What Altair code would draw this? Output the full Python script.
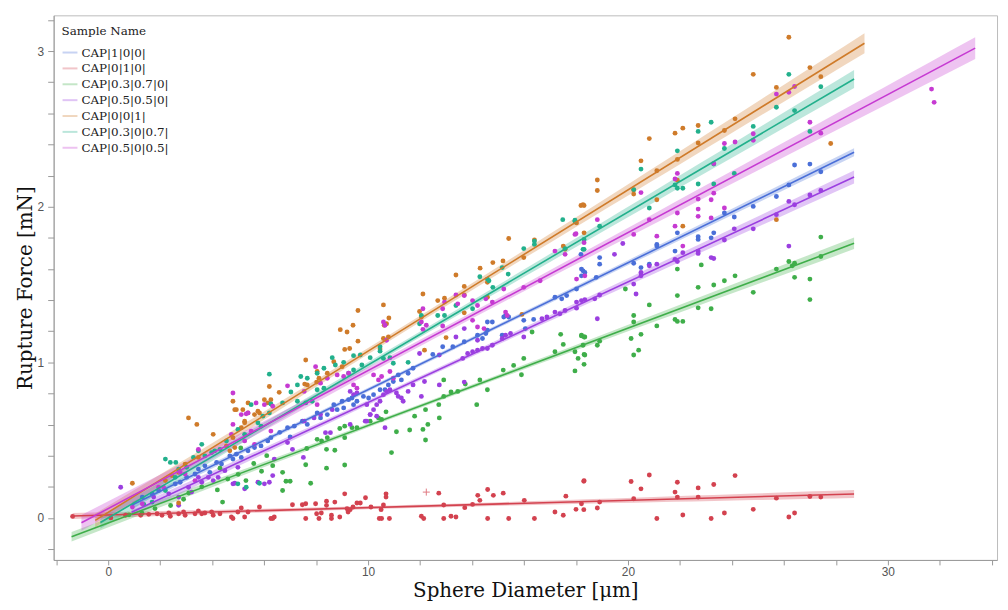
import altair as alt
import pandas as pd
import numpy as np

series_names = ["CAP|1|0|0|", "CAP|0|1|0|", "CAP|0.3|0.7|0|", "CAP|0.5|0.5|0|",
                "CAP|0|0|1|", "CAP|0.3|0|0.7|", "CAP|0.5|0|0.5|"]
series_colors = ["#4a6fd8", "#d3424f", "#3fae4a", "#9b3fe0", "#cf7b2a", "#22b08c", "#c63ad2"]

# ---- scatter points ----
blue_x = [1.31, 1.69, 1.94, 2.58, 2.77, 3.02, 3.34, 3.47, 3.72, 3.91, 4.17, 4.36, 4.68, 4.8, 4.93, 5.12, 5.38, 5.63,
          5.88, 6.14, 6.26, 6.6, 6.9, 7.0, 7.16, 7.47, 7.66, 8.04, 8.17, 8.43, 8.68, 8.81, 9.0, 9.06, 9.25, 9.38, 9.44,
          9.57, 9.82, 10.02, 10.21, 10.46, 10.65, 10.78, 10.97, 11.16, 11.28, 11.54, 11.73, 12.49, 12.87, 13.26, 13.7,
          14.21, 14.4, 14.53, 14.59, 14.59, 14.78, 15.16, 15.22, 15.29, 15.41, 15.99, 16.05, 16.37, 17.19, 17.45, 17.64,
          18.02, 18.19, 18.21, 18.21, 18.27, 18.34, 18.78, 18.91, 18.91, 20.22, 20.5, 20.82, 21.11, 21.11, 21.81, 21.9,
          22.7, 22.7, 23.2, 23.3, 23.71, 24.09, 24.82, 25.71, 26.19, 26.41, 27.0, 27.42]
blue_y = [0.134, 0.155, 0.176, 0.219, 0.229, 0.261, 0.282, 0.314, 0.335, 0.293, 0.357, 0.346, 0.399, 0.378, 0.41, 0.389,
          0.431, 0.452, 0.463, 0.495, 0.516, 0.55, 0.58, 0.52, 0.59, 0.622, 0.601, 0.675, 0.643, 0.664, 0.728, 0.696,
          0.75, 0.707, 0.76, 0.771, 0.728, 0.75, 0.781, 0.771, 0.792, 0.824, 0.824, 0.855, 0.877, 0.919, 0.887, 0.93,
          0.962, 1.051, 1.1, 1.1, 1.132, 1.174, 1.153, 1.185, 1.206, 1.259, 1.259, 1.174, 1.291, 1.301, 1.291, 1.27,
          1.217, 1.276, 1.418, 1.408, 1.429, 1.471, 1.694, 1.556, 1.599, 1.588, 1.578, 1.546, 1.631, 1.673, 1.637,
          1.609, 1.631, 1.758, 1.747, 1.715, 1.832, 1.807, 1.79, 1.8, 1.832, 1.96, 1.934, 2.002, 2.066, 2.14, 2.268,
          2.274, 2.225]

red_x = [-1.37, 0.1, 0.67, 1.25, 1.56, 1.88, 2.07, 2.33, 2.39, 2.71, 2.9, 2.96, 3.34, 3.47, 3.6, 3.72, 3.98, 4.04, 4.3,
         4.74, 4.8, 4.99, 5.12, 5.25, 5.38, 5.82, 6.26, 6.33, 6.39, 7.09, 7.47, 7.6, 7.6, 7.98, 8.02, 8.11, 8.2, 8.4,
         8.4, 8.59, 8.59, 8.72, 8.91, 9.1, 9.19, 9.23, 9.31, 9.42, 9.57, 9.7, 9.9, 10.11, 10.43, 10.5, 10.52, 10.59,
         10.69, 10.69, 10.82, 12.05, 12.14, 12.72, 12.91, 12.91, 13.19, 13.38, 13.72, 14.02, 14.22, 14.3, 14.6, 14.6,
         14.82, 15.2, 15.41, 16.01, 16.4, 17.19, 17.51, 17.61, 18.0, 18.21, 18.3, 18.3, 18.31, 18.82, 18.91, 20.12,
         20.22, 20.5, 20.82, 21.11, 21.81, 21.9, 21.9, 22.11, 22.7, 22.7, 23.2, 23.3, 23.71, 24.12, 24.82, 25.71,
         26.19, 26.41, 27.0, 27.42]
red_y = [0.01, 0.0, 0.017, 0.017, 0.023, 0.027, 0.017, 0.032, 0.011, 0.027, 0.038, 0.017, 0.027, 0.045, 0.027, 0.032,
         0.038, 0.017, 0.027, 0.006, -0.004, 0.038, 0.064, 0.006, 0.038, 0.07, -0.004, -0.004, 0.006, 0.085, 0.085,
         0.091, -0.004, 0.091, 0.027, -0.004, 0.032, 0.108, 0.081, 0.017, -0.004, 0.102, 0.006, 0.155, 0.059, 0.038,
         0.053, 0.07, 0.096, 0.096, 0.13, 0.07, -0.004, 0.053, -0.004, 0.083, 0.155, 0.134, -0.004, 0.011, -0.004,
         0.159, 0.083, -0.004, 0.011, 0.006, 0.066, 0.087, 0.145, 0.113, 0.183, -0.004, 0.145, 0.159, -0.004, 0.113,
         -0.004, 0.038, 0.017, 0.14, 0.055, 0.091, 0.236, 0.053, 0.24, 0.064, 0.102, 0.234, 0.123, 0.187, 0.276,
         -0.004, 0.166, 0.229, 0.134, 0.019, 0.193, 0.134, -0.004, 0.215, 0.032, 0.272, 0.055, 0.127, 0.006, 0.032,
         0.138, 0.134]

green_x = [0.8, 1.3, 1.8, 2.4, 2.9, 3.1, 3.6, 4.2, 4.3, 4.4, 4.6, 5.0, 5.1, 5.3, 5.6, 5.9, 6.1, 6.33, 6.71, 6.71, 6.84,
           7.0, 7.6, 7.64, 7.79, 8.04, 8.21, 8.4, 8.4, 8.43, 8.72, 8.91, 9.1, 9.1, 9.1, 9.38, 9.57, 10.08, 10.4, 10.52,
           10.69, 10.9, 11.09, 11.6, 11.79, 12.11, 12.21, 12.21, 12.3, 12.72, 12.74, 12.91, 12.91, 13.19, 13.45, 13.74,
           14.18, 14.3, 14.59, 15.2, 15.6, 15.9, 15.99, 16.31, 17.19, 17.41, 17.51, 17.96, 17.96, 18.08, 18.21, 18.21,
           18.27, 18.31, 18.31, 18.31, 18.34, 18.34, 18.82, 18.91, 19.9, 20.12, 20.22, 20.22, 20.22, 20.41, 20.5,
           20.82, 21.11, 21.81, 21.9, 21.9, 21.9, 22.11, 22.7, 22.7, 22.82, 23.2, 23.3, 23.71, 24.12, 24.82, 25.71,
           26.19, 26.32, 26.41, 26.41, 27.0, 27.0, 27.42, 27.42]
green_y = [0.02, 0.03, 0.06, 0.08, 0.12, 0.16, 0.2, 0.18, 0.32, 0.102, 0.25, 0.28, 0.45, 0.24, 0.35, 0.3, 0.4, 0.336,
           0.176, 0.293, 0.236, 0.236, 0.342, 0.446, 0.223, 0.505, 0.495, 0.441, 0.32, 0.516, 0.435, 0.575, 0.59,
           0.516, 0.34, 0.58, 0.58, 0.622, 0.643, 0.633, 0.682, 0.42, 0.554, 0.565, 0.654, 0.569, 0.696, 0.501, 0.601,
           0.728, 0.643, 0.781, 0.887, 0.809, 0.813, 0.86, 0.728, 0.887, 0.824, 0.95, 0.98, 0.92, 1.025, 1.195, 1.068,
           1.18, 1.115, 1.068, 0.945, 1.025, 1.17, 1.174, 1.11, 1.163, 1.051, 0.987, 1.163, 1.047, 1.11, 1.136, 1.471,
           1.153, 1.301, 1.259, 1.047, 1.078, 1.18, 1.369, 1.234, 1.276, 1.599, 1.429, 1.263, 1.263, 1.482, 1.35,
           1.626, 1.344, 1.497, 1.524, 1.556, 1.45, 1.599, 1.648, 1.62, 1.637, 1.546, 1.535, 1.403, 1.805, 1.68]

purple_x = [0.48, 1.75, 2.33, 2.71, 2.71, 3.09, 3.21, 3.47, 3.6, 3.85, 4.04, 4.23, 4.49, 4.8, 4.87, 4.99, 5.25, 5.76,
            6.01, 6.2, 6.33, 6.39, 6.9, 7.09, 7.51, 7.54, 7.92, 8.17, 8.36, 8.55, 8.62, 9.31, 9.31, 9.44, 9.57, 9.89,
            9.95, 9.95, 10.08, 10.08, 10.21, 10.33, 10.33, 10.46, 10.59, 10.65, 10.71, 10.84, 11.09, 11.16, 11.28,
            11.35, 11.54, 11.73, 11.98, 12.05, 12.17, 12.74, 12.74, 13.38, 13.64, 13.7, 13.7, 13.83, 14.02, 14.21,
            14.21, 14.4, 14.59, 14.78, 15.16, 15.29, 15.48, 15.99, 16.69, 16.88, 17.19, 17.38, 17.58, 18.02, 18.02,
            18.21, 18.34, 18.72, 18.82, 18.91, 19.48, 19.8, 20.22, 20.31, 20.5, 20.5, 20.82, 21.11, 21.81, 21.9, 22.11,
            22.7, 22.7, 23.2, 23.3, 23.71, 24.09, 24.82, 25.71, 26.19, 26.19, 26.41, 27.0, 27.42]
purple_y = [0.197, 0.134, 0.155, 0.081, 0.134, 0.197, 0.166, 0.261, 0.229, 0.261, 0.24, 0.261, 0.304, 0.219, 0.223,
            0.325, 0.187, 0.229, 0.219, 0.229, 0.272, 0.378, 0.484, 0.441, 0.389, 0.622, 0.643, 0.664, 0.548, 0.548,
            0.696, 0.601, 0.813, 0.792, 0.803, 0.622, 0.728, 0.622, 0.664, 0.664, 0.696, 0.728, 0.654, 0.75, 0.792,
            0.58, 0.813, 0.824, 0.803, 0.781, 0.771, 0.75, 0.813, 0.855, 1.057, 0.781, 0.877, 1.047, 0.855, 1.163,
            1.025, 1.217, 0.873, 1.057, 1.068, 1.078, 1.142, 1.089, 1.089, 1.11, 1.153, 1.174, 1.185, 1.163, 1.28,
            1.291, 1.323, 1.312, 1.333, 1.387, 1.348, 1.397, 1.403, 1.408, 1.28, 1.433, 1.694, 1.764, 1.503, 1.439,
            1.578, 1.556, 1.62, 1.631, 1.662, 1.648, 1.705, 1.715, 1.7, 1.673, 1.667, 1.786, 1.858, 1.858, 1.949,
            2.034, 1.747, 2.013, 2.076, 2.104]

orange_x = [0.93, 2.2, 2.45, 2.71, 2.71, 2.96, 3.09, 3.41, 3.47, 4.04, 4.55, 4.68, 4.8, 4.8, 4.87, 4.87, 4.93, 5.12,
            5.18, 5.25, 5.25, 5.38, 5.38, 5.63, 5.76, 5.82, 6.01, 6.14, 6.2, 6.26, 6.58, 7.56, 7.6, 7.66, 8.02, 8.04,
            8.11, 8.43, 8.68, 8.93, 9.0, 9.1, 9.19, 9.29, 9.42, 9.61, 9.61, 10.46, 10.59, 10.59, 10.62, 10.71, 10.78,
            10.8, 11.98, 12.05, 12.11, 12.17, 12.68, 12.94, 13.0, 13.38, 13.7, 13.7, 13.7, 14.31, 14.59, 14.59, 14.8,
            15.19, 15.41, 15.92, 15.99, 16.4, 17.51, 17.58, 18.02, 18.19, 18.27, 18.31, 18.31, 18.82, 18.82, 20.22,
            20.22, 20.5, 20.82, 21.11, 21.11, 21.81, 21.9, 21.9, 22.11, 22.11, 22.7, 22.7, 23.71, 24.12, 24.82, 25.71,
            25.71, 26.19, 27.0, 27.42, 27.8]
orange_y = [0.223, 0.24, 0.272, 0.293, 0.096, 0.346, 0.643, 0.601, 0.389, 0.537, 0.463, 0.431, 0.75, 0.516, 0.696,
            0.452, 0.696, 0.58, 0.696, 0.611, 0.622, 0.739, 0.675, 0.664, 0.686, 0.675, 0.76, 0.739, 0.845, 0.76, 0.807,
            0.86, 1.015, 0.855, 0.873, 0.941, 0.898, 0.93, 1.004, 1.21, 0.972, 1.083, 1.195, 1.089, 1.238, 1.333,
            1.136, 1.085, 1.369, 1.153, 1.238, 1.248, 1.163, 1.285, 1.327, 1.291, 1.439, 1.078, 1.397, 1.412, 1.159,
            1.561, 1.488, 1.433, 1.318, 1.605, 1.514, 1.418, 1.641, 1.652, 1.796, 1.308, 1.673, 1.786, 1.747, 1.726,
            1.896, 2.008, 2.013, 2.008, 1.832, 2.172, 2.104, 2.108, 2.081, 2.295, 2.438, 2.231, 2.045, 2.473, 2.304,
            2.17, 2.505, 1.875, 2.522, 2.41, 2.49, 2.565, 2.851, 2.767, 1.917, 3.089, 2.894, 2.836, 2.406]

teal_x = [1.37, 1.69, 2.2, 2.2, 2.39, 2.58, 2.6, 2.71, 3.02, 3.28, 3.47, 3.6, 3.72, 3.98, 4.1, 4.3, 4.55, 4.99, 4.99,
          5.25, 5.31, 5.5, 5.76, 5.82, 5.88, 5.95, 6.2, 6.2, 6.26, 6.71, 7.03, 7.28, 7.28, 7.41, 7.6, 7.66, 7.85, 8.04,
          8.04, 8.3, 8.3, 8.62, 8.74, 9.06, 9.25, 9.44, 9.44, 9.7, 9.76, 10.08, 10.46, 10.46, 10.59, 10.84, 10.97,
          11.54, 11.98, 12.05, 12.68, 12.94, 13.38, 14.02, 14.3, 14.59, 14.65, 14.8, 15.16, 15.39, 15.99, 16.4, 16.4,
          17.49, 17.58, 17.96, 17.96, 18.27, 18.31, 18.31, 18.91, 20.22, 20.5, 20.82, 21.81, 21.9, 21.9, 22.11, 22.7,
          22.7, 23.2, 23.3, 23.3, 23.71, 24.09, 24.82, 25.71, 26.19, 26.41, 27.0, 27.42]
teal_y = [0.087, 0.102, 0.378, 0.176, 0.357, 0.261, 0.357, 0.314, 0.325, 0.389, 0.431, 0.473, 0.399, 0.42, 0.431,
          0.441, 0.495, 0.569, 0.219, 0.537, 0.197, 0.728, 0.611, 0.223, 0.59, 0.654, 0.675, 0.924, 0.732, 0.739,
          0.809, 0.855, 0.75, 0.909, 0.739, 0.898, 0.75, 0.93, 0.824, 0.962, 0.834, 1.03, 0.983, 1.0, 0.93, 1.043,
          0.951, 1.047, 0.983, 1.03, 1.1, 1.072, 1.025, 1.03, 0.994, 1.0, 1.248, 1.301, 1.301, 1.301, 1.365, 1.344,
          1.55, 1.535, 1.524, 1.482, 1.609, 1.567, 1.731, 1.758, 1.779, 1.917, 1.731, 1.907, 1.913, 1.726, 1.79,
          1.726, 1.875, 2.11, 2.242, 1.992, 2.14, 2.359, 2.119, 2.119, 2.484, 2.146, 2.543, 2.274, 2.146, 2.374,
          2.214, 2.516, 2.639, 2.851, 2.618, 2.484, 2.771]

magenta_x = [0.93, 1.31, 1.94, 2.13, 2.77, 2.96, 3.34, 3.47, 4.74, 4.8, 4.8, 5.12, 5.25, 5.31, 5.38, 5.5, 5.63, 5.69,
             6.01, 6.26, 6.33, 6.9, 7.54, 7.98, 8.04, 8.17, 8.43, 8.81, 9.06, 9.25, 9.44, 9.57, 10.21, 10.4, 10.52,
             10.59, 10.65, 10.71, 10.84, 10.97, 12.05, 12.11, 12.11, 12.24, 12.87, 12.87, 12.94, 13.38, 13.45, 13.7,
             14.02, 14.02, 14.21, 14.21, 14.46, 14.53, 14.78, 15.22, 15.29, 15.35, 15.99, 16.62, 17.19, 17.58, 17.96,
             18.0, 18.02, 18.31, 18.34, 18.82, 20.22, 20.5, 20.82, 21.11, 21.81, 21.81, 21.9, 21.9, 22.11, 22.7,
             22.7, 22.7, 23.2, 23.2, 23.3, 23.3, 23.71, 23.71, 24.12, 24.82, 24.82, 25.71, 26.19, 26.41, 27.0, 27.42,
             31.68, 31.78]
magenta_y = [0.07, 0.091, 0.197, 0.197, 0.293, 0.282, 0.24, 0.441, 0.537, 0.601, 0.803, 0.664, 0.495, 0.669, 0.675,
             0.558, 0.473, 0.739, 0.728, 0.558, 0.718, 0.849, 0.813, 0.972, 0.728, 0.866, 0.898, 0.919, 0.909, 0.93,
             0.855, 0.834, 0.919, 0.887, 0.909, 1.259, 1.238, 1.142, 0.941, 0.898, 1.259, 1.212, 1.344, 1.238, 1.234,
             1.344, 1.387, 1.433, 1.376, 1.429, 1.397, 1.27, 1.365, 1.227, 1.217, 1.408, 1.387, 1.471, 1.323, 1.301,
             1.482, 1.524, 1.715, 1.694, 1.822, 1.826, 1.535, 1.769, 1.556, 1.917, 1.822, 2.091, 1.917, 1.811, 2.178,
             1.875, 2.214, 1.96, 1.747, 2.049, 1.985, 1.938, 2.045, 1.928, 2.278, 2.087, 2.406, 1.992, 2.416, 2.469,
             2.427, 2.724, 2.735, 2.773, 2.543, 2.473, 2.756, 2.671]

pts_x = [blue_x, red_x, green_x, purple_x, orange_x, teal_x, magenta_x]
pts_y = [blue_y, red_y, green_y, purple_y, orange_y, teal_y, magenta_y]

# ---- fitted lines: x range, intercept, slope ----
fit_x0 = [0.92, -1.37, -1.41, 0.9, -0.5, -0.3, -1.03]
fit_x1 = [28.7, 28.7, 28.7, 28.7, 29.1, 28.7, 33.36]
fit_b0 = [0.008, 0.019, -0.032, -0.033, 0.036, 0.0, 0.06]
fit_b1 = [0.0816, 0.0047, 0.0626, 0.0775, 0.1036, 0.0983, 0.0887]
# confidence band half-width at data centre and at the far end
band_mid = [0.012, 0.010, 0.012, 0.014, 0.02, 0.018, 0.02]
band_end = [0.026, 0.026, 0.037, 0.042, 0.064, 0.058, 0.07]
band_ctr = [12.0, 11.0, 12.0, 12.0, 11.0, 11.0, 13.0]

# excluded point marker (+)
excl_x = [12.24]
excl_y = [0.166]

pts_rows, line_rows, band_rows = [], [], []
for i, name in enumerate(series_names):
    for a, b in zip(pts_x[i], pts_y[i]):
        pts_rows.append({"series": name, "x": a, "y": b})
    for xx in (fit_x0[i], fit_x1[i]):
        line_rows.append({"series": name, "x": xx, "y": fit_b0[i] + fit_b1[i] * xx})
    k = (band_end[i] ** 2 - band_mid[i] ** 2) / (fit_x1[i] - band_ctr[i]) ** 2
    for xx in np.linspace(fit_x0[i], fit_x1[i], 40):
        hw = np.sqrt(band_mid[i] ** 2 + k * (xx - band_ctr[i]) ** 2)
        yc = fit_b0[i] + fit_b1[i] * xx
        band_rows.append({"series": name, "x": float(xx), "y": yc - hw, "hi": yc + hw})

pts_df = pd.DataFrame(pts_rows)
line_df = pd.DataFrame(line_rows)
band_df = pd.DataFrame(band_rows)
excl_df = pd.DataFrame({"x": excl_x, "y": excl_y})

XD = [-2.1, 34.2]
YD = [-0.27, 3.23]
xticks = list(range(-2, 35, 2))
yticks = [round(-0.2 + 0.2 * i, 1) for i in range(18)]

color_scale = alt.Scale(domain=series_names, range=series_colors)
legend = alt.Legend(title="Sample Name", orient="none", legendX=8, legendY=11,
                    symbolType="stroke", symbolSize=225, symbolStrokeWidth=2,
                    labelFont="DejaVu Serif", labelFontSize=12, labelColor="#222",
                    titleFont="DejaVu Serif", titleFontSize=12, titleFontWeight="normal",
                    titleColor="#222", rowPadding=1, titlePadding=6, labelOffset=3)
color_enc = alt.Color("series:N", scale=color_scale, sort=series_names, legend=legend)

xs = alt.Scale(domain=XD, nice=False, zero=False)
ys = alt.Scale(domain=YD, nice=False, zero=False)

x_axis = alt.Axis(title="Sphere Diameter [\u03bcm]", values=xticks, labelOverlap=False,
                  labelExpr="datum.value % 10 == 0 ? datum.label : ''",
                  grid=False, tickSize=5, labelPadding=2, titleY=37, titleBaseline="alphabetic")
y_axis = alt.Axis(title="Rupture Force [mN]", values=yticks, labelOverlap=False,
                  labelExpr="(abs(datum.value % 1) < 0.001 || abs(datum.value % 1) > 0.999) ? '' + round(datum.value) : ''",
                  grid=False, tickSize=6, labelPadding=4, titlePadding=2)
x_enc = alt.X("x:Q", scale=xs, axis=x_axis)
y_enc = alt.Y("y:Q", scale=ys, axis=y_axis)

band = alt.Chart(band_df).mark_area(opacity=0.3).encode(
    x=x_enc, y=y_enc, y2="hi:Q",
    color=color_enc, detail="series:N",
)

points = alt.Chart(pts_df).mark_circle(size=24, opacity=1).encode(
    x=x_enc, y=y_enc, color=color_enc,
)

excl = alt.Chart(excl_df).mark_point(shape="M-1,0L1,0M0,-1L0,1", size=50, filled=False,
                                     strokeWidth=1, color="#d3424f").encode(x=x_enc, y=y_enc)

lines = alt.Chart(line_df).mark_line(strokeWidth=1.6).encode(
    x=x_enc, y=y_enc, color=color_enc,
)

chart = alt.layer(band, points, excl, lines).properties(
    width=951, height=549,
    autosize=alt.AutoSizeParams(type="none"),
    padding={"left": 46, "top": 5, "right": 3, "bottom": 40},
).configure_view(
    stroke="#bbbbbb", strokeWidth=1
).configure_axis(
    domainColor="#999999", tickColor="#999999", labelColor="#555555",
    labelFont="Liberation Sans", labelFontSize=12, labelOverlap=False,
    titleFont="DejaVu Serif", titleFontSize=20, titleFontWeight="normal", titleColor="#111111",
)

chart.save("out.html", embed_options={"renderer": "svg", "actions": False})
